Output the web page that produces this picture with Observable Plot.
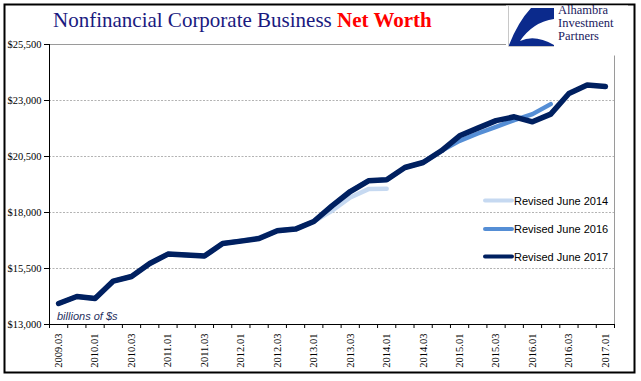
<!DOCTYPE html>
<html>
<head>
<meta charset="utf-8">
<script src="https://cdn.jsdelivr.net/npm/d3@7"></script>
<script src="https://cdn.jsdelivr.net/npm/@observablehq/plot@0.6"></script>
<style>
  html, body { margin: 0; padding: 0; background: #fff; }
  #wrap { position: relative; width: 641px; height: 381px; overflow: hidden; }
  #wrap svg { position: absolute; left: 0; top: 0; }
</style>
</head>
<body>
<div id="wrap"></div>
<script>
const quarters = [
  "2009.03","2009.04","2010.01","2010.02","2010.03","2010.04","2011.01","2011.02",
  "2011.03","2011.04","2012.01","2012.02","2012.03","2012.04","2013.01","2013.02",
  "2013.03","2013.04","2014.01","2014.02","2014.03","2014.04","2015.01","2015.02",
  "2015.03","2015.04","2016.01","2016.02","2016.03","2016.04","2017.01"
];
const revisedJune2014 = [13937,14250,14161,14937,15143,15723,16143,16098,16054,16616,16740,16880,17220,17280,17598,18076,18670,19044,19060];
const revisedJune2016 = [13937,14250,14161,14937,15143,15723,16143,16098,16054,16616,16723,16839,17183,17259,17598,18299,18937,19415,19460,20009,20232,20754,21200,21527,21820,22124,22392,22839];
const revisedJune2017 = [13937,14250,14161,14937,15143,15723,16143,16098,16054,16616,16723,16839,17183,17259,17598,18299,18937,19415,19460,20009,20232,20754,21424,21767,22100,22272,22049,22392,23312,23687,23625];
const yTicks = [13000,15500,18000,20500,23000,25500];
const seriesNames = ["Revised June 2014","Revised June 2016","Revised June 2017"];
const seriesColors = ["#c6d9f1","#558ed5","#002060"];

const toRows = arr => arr.map((v, i) => ({i, v}));
const n = quarters.length;
const boundaries = d3.range(n + 1).map(k => k - 0.5);
const labelIdx = d3.range(0, n, 2);

const chart = Plot.plot({
  width: 641, height: 381,
  marginLeft: 49, marginRight: 27, marginTop: 44, marginBottom: 57,
  style: {fontFamily: "Liberation Serif", fontSize: "10px", color: "#000", background: "transparent", overflow: "visible"},
  x: {type: "linear", domain: [-0.5, n - 0.5], axis: null},
  y: {domain: [13000, 25500], axis: null},
  marks: [
    Plot.ruleY(yTicks.slice(1, -1), {stroke: "#b3b3b3", strokeDasharray: "2,1.5", strokeWidth: 1}),
    Plot.frame({stroke: "#9a9a9a", strokeWidth: 1}),
    Plot.line(toRows(revisedJune2014), {x: "i", y: "v", stroke: seriesColors[0], strokeWidth: 4.5, strokeLinejoin: "round", strokeLinecap: "round"}),
    Plot.line(toRows(revisedJune2016), {x: "i", y: "v", stroke: seriesColors[1], strokeWidth: 4.5, strokeLinejoin: "round", strokeLinecap: "round"}),
    Plot.line(toRows(revisedJune2017), {x: "i", y: "v", stroke: seriesColors[2], strokeWidth: 5.5, strokeLinejoin: "round", strokeLinecap: "round"}),
    Plot.ruleX([-0.5], {stroke: "#000", strokeWidth: 1}),
    Plot.ruleY([13000], {stroke: "#000", strokeWidth: 1}),
    Plot.axisY({ticks: yTicks, tickFormat: d => "$" + d3.format(",")(d), tickSize: 5, tickPadding: 3, stroke: "#000", fontSize: 10.5, label: null}),
    Plot.axisX({ticks: boundaries, tickFormat: () => "", tickSize: 4, stroke: "#000", label: null}),
    Plot.axisX({ticks: labelIdx, tickFormat: i => quarters[i], tickSize: 0, tickPadding: 9, tickRotate: -90, fontSize: 10.5, label: null})
  ]
});
const wrap = document.getElementById("wrap");
wrap.appendChild(chart);

// overlays: frame, title, logo, legend, unit note
const ov = document.createElementNS("http://www.w3.org/2000/svg", "svg");
ov.setAttribute("width", 641); ov.setAttribute("height", 381);
ov.style.position = "absolute"; ov.style.left = "0"; ov.style.top = "0";
let legendSvg = "";
seriesNames.forEach((s, k) => {
  const yy = [200.5, 229, 256.5][k];
  legendSvg += `<line x1="485" x2="512" y1="${yy}" y2="${yy}" stroke="${seriesColors[k]}" stroke-width="4" stroke-linecap="round"/>
  <text x="514" y="${yy + 4}" font-family="Liberation Sans" font-size="11" fill="#000">${s}</text>`;
});
ov.innerHTML = `
  <rect x="4.5" y="4.5" width="630" height="368" fill="none" stroke="#000" stroke-width="2"/>
  <text x="53" y="27" font-family="Liberation Serif" font-size="21" fill="#1a1a80">Nonfinancial Corporate Business <tspan fill="#ff0000" font-weight="bold">Net Worth</tspan></text>
  <rect x="506" y="5.5" width="122" height="50" fill="#fff"/>
  <path d="M508.5 6 L508.5 46.5 L554 46.5" fill="none" stroke="#c8c8c8" stroke-width="1"/>
  <path d="M531 8 L554 8 L554 19 Q533 22 520 41 Q535 34 554 45 L554 46 L509 46 L509 45 Q518 22 531 8 Z" fill="#0b2a8c"/>
  <text x="558" y="14" font-family="Liberation Serif" font-size="12.5" fill="#1a1a5e">Alhambra</text>
  <text x="558" y="27" font-family="Liberation Serif" font-size="12.5" fill="#1a1a5e">Investment</text>
  <text x="558" y="40" font-family="Liberation Serif" font-size="12.5" fill="#1a1a5e">Partners</text>
  ${legendSvg}
  <text x="57" y="320" font-family="Liberation Sans" font-style="italic" font-size="11" fill="#1f3060">billions of $s</text>
`;
wrap.appendChild(ov);
</script>
</body>
</html>
